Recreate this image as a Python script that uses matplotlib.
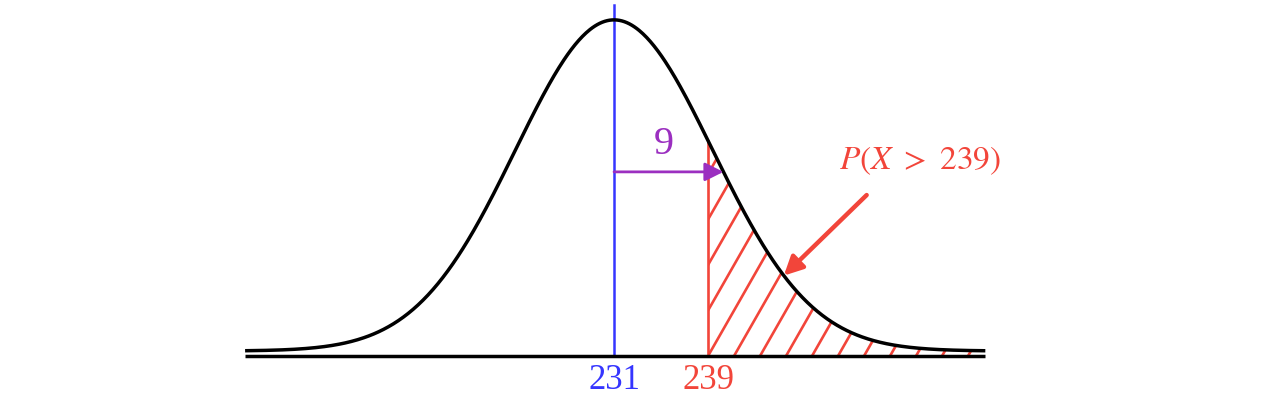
import numpy as np
import matplotlib.pyplot as plt
from matplotlib.patches import Polygon

plt.rcParams['mathtext.fontset'] = 'stix'

mean = 231
sd = 9
cutoff = 239
curve_sd = 8.4          # width of the bell as it is drawn
x_lo, x_hi = 199.6, 262.6
mean_label = '231'
cutoff_label = '239'
sd_label = '9'
prob_label = r'$P(X\ >\ 239)$'

blue = '#3535ff'
red = '#f2453a'
purple = '#9b2fc0'


def pdf(x):
    return np.exp(-0.5 * ((x - mean) / curve_sd) ** 2) / (curve_sd * np.sqrt(2 * np.pi))


peak = pdf(mean)
base = -0.015 * peak

fig = plt.figure(figsize=(12.8, 4.07), dpi=100)
ax = fig.add_axes([0, 0, 1, 1])
ax.set_xlim(178.74, 287.68)
ax.set_ylim(-0.169 * peak, 1.060 * peak)
ax.axis('off')

# bell curve and base line
xs = np.linspace(x_lo, x_hi, 600)
ax.plot(xs, pdf(xs), color='black', lw=2.5, zorder=4, solid_capstyle='butt')
ax.plot([x_lo, x_hi], [base, base], color='black', lw=2.5, zorder=4, solid_capstyle='butt')

# mean line
ax.plot([mean, mean], [base, 1.045 * peak], color=blue, lw=1.8, zorder=3)

# cutoff line
ax.plot([cutoff, cutoff], [base, pdf(cutoff)], color=red, lw=1.9, zorder=3)

# hatched tail
xr = np.linspace(cutoff, x_hi, 300)
verts = [(cutoff, base)] + list(zip(xr, pdf(xr))) + [(x_hi, base)]
region = Polygon(verts, closed=True, facecolor='none', edgecolor='none')
ax.add_patch(region)

px_x = 1280 / (287.68 - 178.74)
px_y = 407 / (1.229 * peak)
step = 26 / px_x
slope = 1.75 * px_x / px_y
for k in range(-12, 12):
    x0 = cutoff + k * step
    ln, = ax.plot([x0, x0 + peak / slope], [base, base + peak], color=red, lw=1.9, zorder=2)
    ln.set_clip_path(region)

# sd arrow, ends where it meets the curve
y_arr = 0.541 * peak
x_end = mean + curve_sd * np.sqrt(-2 * np.log(y_arr / peak))
ax.annotate('', xy=(x_end, y_arr), xytext=(mean, y_arr),
            arrowprops=dict(arrowstyle='-|>', color=purple, lw=2, mutation_scale=28,
                            shrinkA=0, shrinkB=0), zorder=5)
ax.text((mean + x_end) / 2 - 0.4, 0.625 * peak, sd_label, color=purple, fontsize=29,
        family='Liberation Serif', ha='center', va='center')

# probability label and pointer
tip_x = 245.45
ax.annotate('', xy=(tip_x, pdf(tip_x)), xytext=(252.5, 0.471 * peak),
            arrowprops=dict(arrowstyle='-|>', color=red, lw=3.2, mutation_scale=28,
                            shrinkA=0, shrinkB=0), zorder=5)
ax.text(257.0, 0.575 * peak, prob_label, color=red, fontsize=24, ha='center', va='center')

# axis labels
ax.text(mean, -0.0876 * peak, mean_label, color=blue, fontsize=25,
        family='Liberation Serif', ha='center', va='center')
ax.text(cutoff, -0.0876 * peak, cutoff_label, color=red, fontsize=25,
        family='Liberation Serif', ha='center', va='center')

fig.savefig('out.png', dpi=100)
